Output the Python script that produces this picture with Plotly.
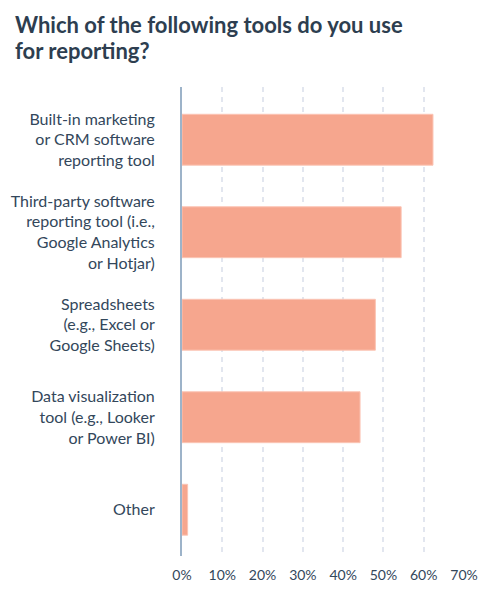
import plotly.graph_objects as go

categories = [
    "Built-in marketing<br>or CRM software<br>reporting tool",
    "Third-party software<br>reporting tool (i.e.,<br>Google Analytics<br>or Hotjar)",
    "Spreadsheets<br>(e.g., Excel or<br>Google Sheets)",
    "Data visualization<br>tool (e.g., Looker<br>or Power BI)",
    "Other",
]
values = [62.3, 54.4, 48.0, 44.2, 1.4]
tick_vals = [0, 10, 20, 30, 40, 50, 60, 70]
tick_text = ["0%", "10%", "20%", "30%", "40%", "50%", "60%", "70%"]
title_lines = ["Which of the following tools do you use", "for reporting?"]

FONT = "Lato, 'Noto Sans', sans-serif"

# page body has an 8px margin, so the figure is placed at (8, 8)
W, H = 492, 586
L, R, T, B = 174, 36, 79, 38
PW, PH = W - L - R, H - T - B

fig = go.Figure(
    go.Bar(
        x=values,
        y=categories,
        orientation="h",
        marker=dict(color="#f6a68e", line=dict(color="#fbc4b4", width=1)),
        width=0.55,
        hoverinfo="skip",
    )
)

fig.update_layout(
    width=W,
    height=H,
    paper_bgcolor="white",
    plot_bgcolor="white",
    margin=dict(l=L, r=R, t=T, b=B, autoexpand=False),
    showlegend=False,
    font=dict(family=FONT, color="#33475b"),
)

for i, line in enumerate(title_lines):
    fig.add_annotation(
        text=line,
        xref="paper",
        yref="paper",
        x=(5 - L) / PW,
        y=1 + (T - 1 - 26 * i) / PH,
        xanchor="left",
        yanchor="top",
        align="left",
        showarrow=False,
        font=dict(family=FONT, size=22, color="#2d3e50", weight="bold"),
    )

fig.update_xaxes(
    range=[0, 70],
    tickvals=tick_vals,
    ticktext=tick_text,
    tickfont=dict(size=14, color="#33475b"),
    showgrid=True,
    gridcolor="#e2e6ef",
    griddash="5px,5px",
    gridwidth=1.5,
    zeroline=False,
    showline=False,
    ticks="",
    ticklabelstandoff=9,
    automargin=False,
    fixedrange=True,
)

fig.update_yaxes(
    range=[4.5, -0.57],
    tickfont=dict(size=16, color="#33475b"),
    showgrid=False,
    zeroline=False,
    showline=True,
    linecolor="#9db3c9",
    linewidth=2,
    ticks="",
    ticklabelstandoff=22,
    automargin=False,
    fixedrange=True,
)

fig.write_html("out.html")
